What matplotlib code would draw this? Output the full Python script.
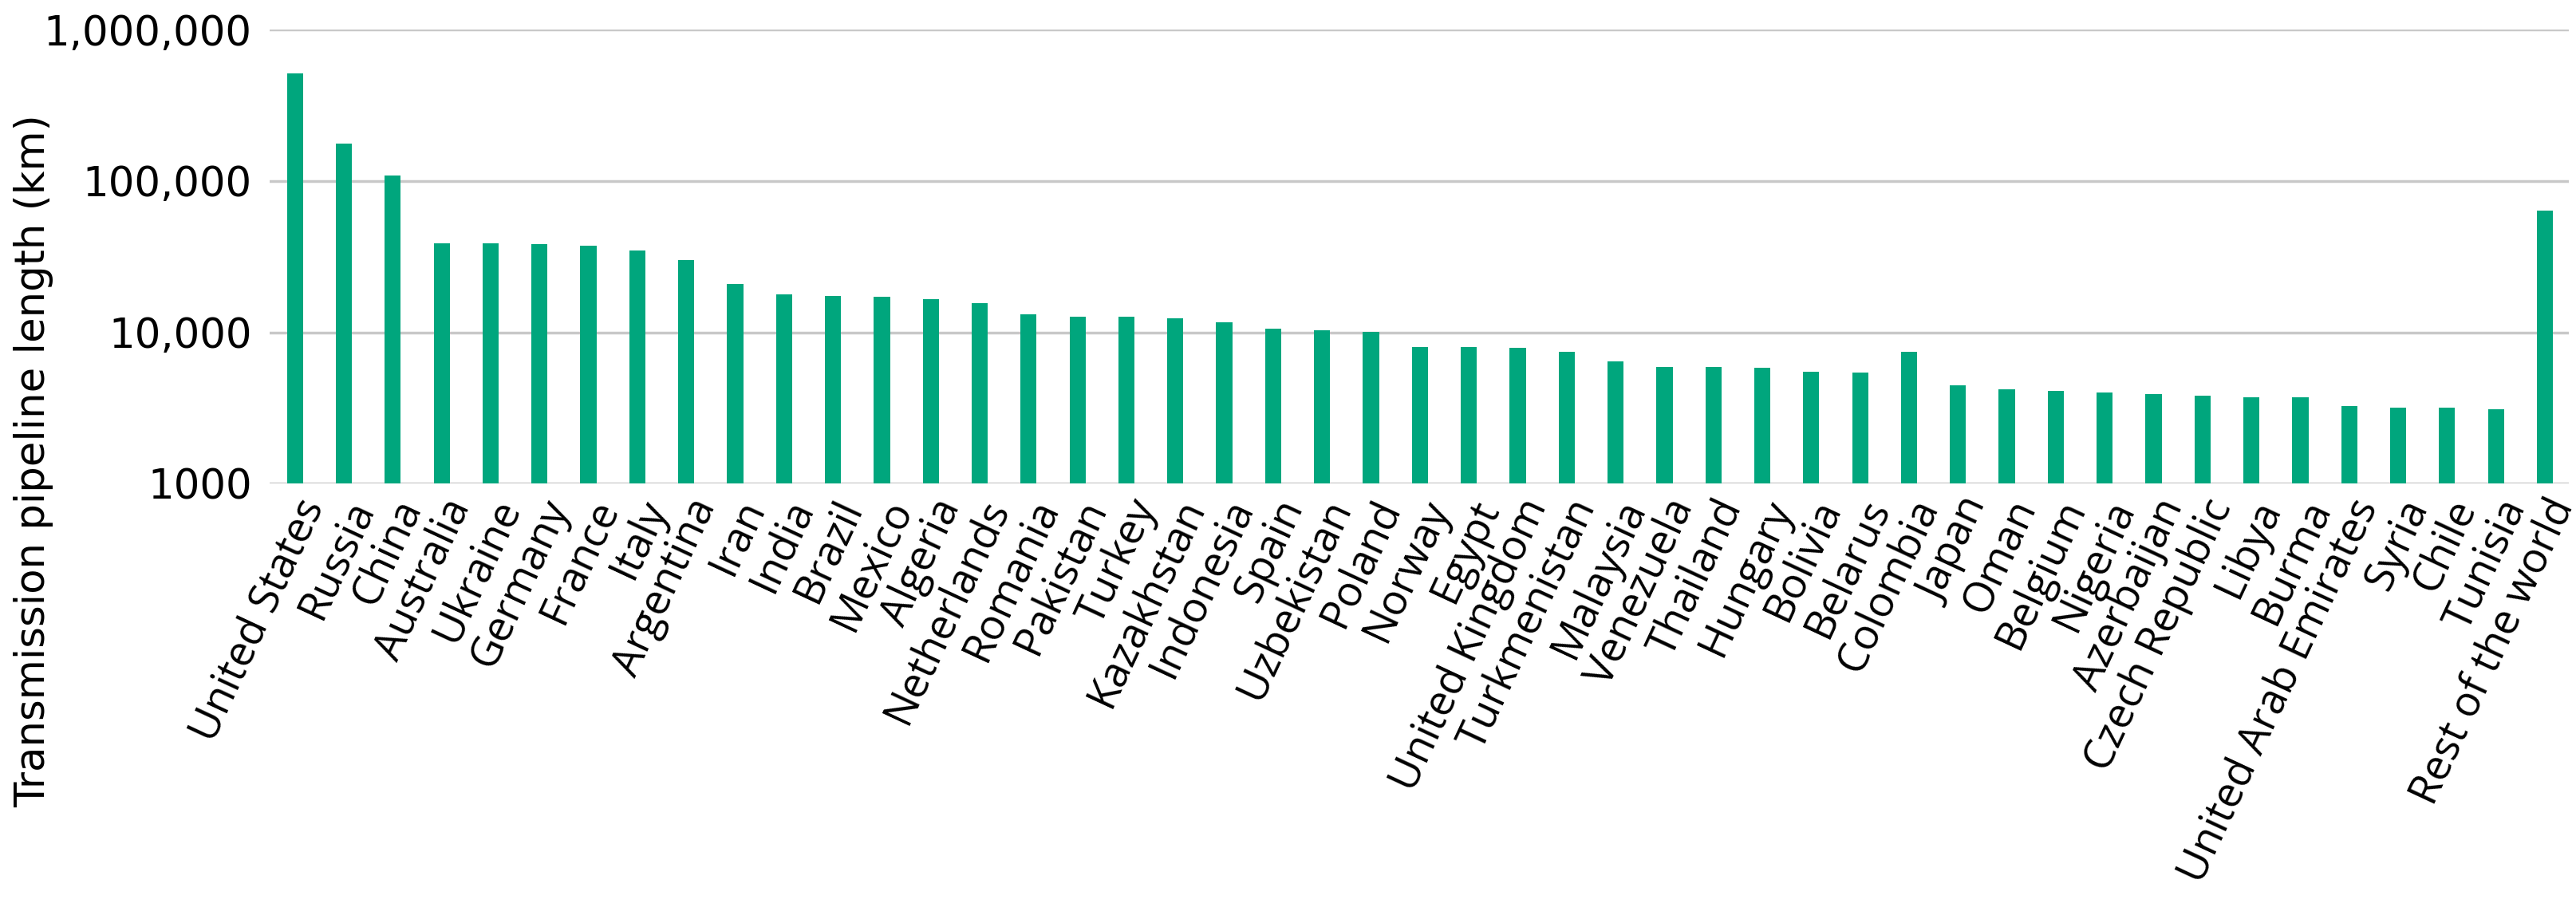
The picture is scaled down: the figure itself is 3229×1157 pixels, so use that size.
import numpy as np
import matplotlib
matplotlib.use("Agg")
import matplotlib.pyplot as plt
from matplotlib.ticker import FixedLocator, NullLocator

countries = [
    "United States", "Russia", "China", "Australia", "Ukraine", "Germany",
    "France", "Italy", "Argentina", "Iran", "India", "Brazil", "Mexico",
    "Algeria", "Netherlands", "Romania", "Pakistan", "Turkey", "Kazakhstan",
    "Indonesia", "Spain", "Uzbekistan", "Poland", "Norway", "Egypt",
    "United Kingdom", "Turkmenistan", "Malaysia", "Venezuela", "Thailand",
    "Hungary", "Bolivia", "Belarus", "Colombia", "Japan", "Oman", "Belgium",
    "Nigeria", "Azerbaijan", "Czech Republic", "Libya", "Burma",
    "United Arab Emirates", "Syria", "Chile", "Tunisia", "Rest of the world",
]
pipeline_km = [
    513000, 177000, 109000, 38800, 38800, 38300,
    37100, 34500, 29900, 20800, 17800, 17400, 17200,
    16500, 15500, 13100, 12700, 12600, 12400,
    11600, 10600, 10300, 10050, 7960, 7960,
    7850, 7460, 6440, 5920, 5920,
    5830, 5490, 5410, 7460, 4440, 4220, 4120,
    4020, 3890, 3790, 3700, 3700,
    3250, 3170, 3170, 3090, 64000,
]
ytick_vals = [1000, 10000, 100000, 1000000]
ytick_labels = ["1000", "10,000", "100,000", "1,000,000"]

plt.rcParams["font.family"] = ["DejaVu Sans"]

fig = plt.figure(figsize=(32.3, 11.57), dpi=100)
ax = fig.add_axes([0.1046, 0.476, 0.8923, 0.492])

x = np.arange(len(countries))
ax.bar(x, pipeline_km, width=0.33, color="#00a67d", zorder=3)

ax.set_yscale("log")
ax.set_ylim(1000, 1000000)
ax.set_xlim(-0.52, len(countries) - 0.51)
ax.yaxis.set_major_locator(FixedLocator(ytick_vals))
ax.yaxis.set_minor_locator(NullLocator())
ax.set_yticklabels(ytick_labels, fontsize=37)
ax.grid(axis="y", color="#c8c8c8", linewidth=2.5, zorder=0)

ax.set_xticks(x)
ax.set_xticklabels(countries, rotation=65, ha="right", rotation_mode="anchor",
                   fontsize=38, family=["Open Sans", "DejaVu Sans"])
ax.tick_params(axis="both", length=0)
ax.tick_params(axis="y", pad=16)
ax.tick_params(axis="x", pad=8)

for s in ax.spines.values():
    s.set_visible(False)

ax.set_ylabel("Transmission pipeline length (km)", fontsize=37)
ax.yaxis.set_label_coords(-0.094, 0.05)

fig.savefig("out.png", dpi=100, facecolor="white")
